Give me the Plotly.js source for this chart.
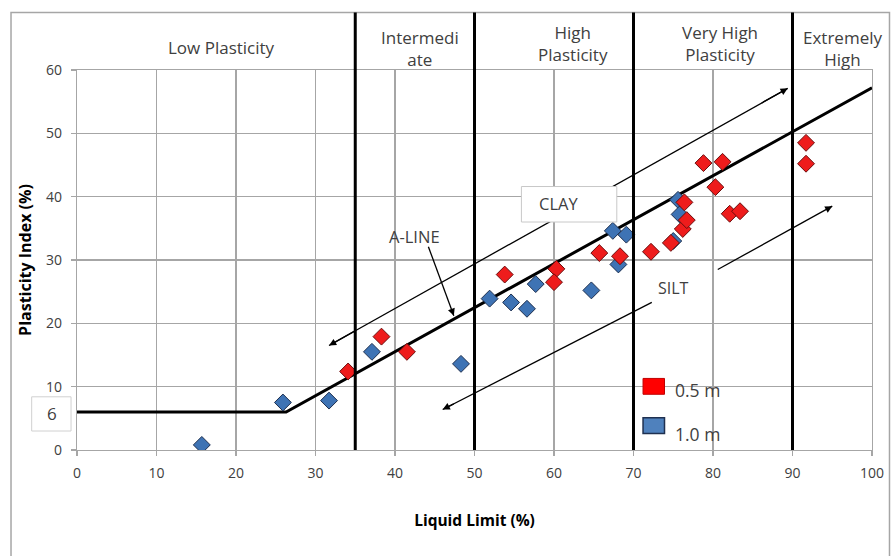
<!DOCTYPE html>
<html>
<head>
<meta charset="utf-8">
<script src="https://cdn.plot.ly/plotly-3.0.1.min.js"></script>
<style>html,body{margin:0;padding:0;background:#fff;}#chart{width:892px;height:556px;}</style>
</head>
<body>
<div id="chart"></div>
<script>
// Data: Liquid Limit (%) vs Plasticity Index (%)
const red05LL = [34.1, 38.3, 41.5, 53.8, 60.3, 60.0, 65.7, 68.3, 72.2, 74.7, 76.2, 76.7, 76.4, 78.8, 80.3, 81.2, 82.1, 83.4, 91.7, 91.7];
const red05PI = [12.4, 17.9, 15.5, 27.7, 28.6, 26.5, 31.1, 30.6, 31.3, 32.7, 34.9, 36.3, 39.1, 45.3, 41.5, 45.5, 37.3, 37.7, 48.5, 45.2];
const blue10LL = [15.7, 25.9, 31.7, 37.1, 48.3, 51.9, 54.6, 56.6, 57.7, 64.7, 67.4, 68.1, 69.1, 75.0, 75.6, 75.8];
const blue10PI = [0.8, 7.5, 7.8, 15.5, 13.6, 23.9, 23.3, 22.3, 26.2, 25.2, 34.6, 29.3, 34.0, 33.0, 39.5, 37.2];
const alineLL = [0, 26.3, 100];
const alinePI = [6, 6, 57.2];
const boundaryLL = [35, 50, 70, 90];
const zoneNames = ["Low Plasticity", "Intermedi<br>ate", "High<br>Plasticity", "Very High<br>Plasticity", "Extremely<br>High"];
const zoneCentersLL = [18.2, 43.2, 62.4, 80.9, 96.3];
const seriesNames = ["0.5 m", "1.0 m"];
const xTicks = [0, 10, 20, 30, 40, 50, 60, 70, 80, 90, 100];
const yTicks = [0, 10, 20, 30, 40, 50, 60];

const FONT = "'Open Sans', sans-serif";
const TXT = "#404040";

const traces = [
  {x: alineLL, y: alinePI, mode: "lines", line: {color: "#000", width: 3}, hoverinfo: "skip", showlegend: false},
  {x: blue10LL, y: blue10PI, mode: "markers", name: seriesNames[1], showlegend: false,
   marker: {symbol: "diamond", size: 13, color: "#3e73b4", line: {color: "#1d2f4f", width: 1}}},
  {x: red05LL, y: red05PI, mode: "markers", name: seriesNames[0], showlegend: false,
   marker: {symbol: "diamond", size: 13, color: "#ee1c1c", line: {color: "#6b0d0d", width: 1}}}
];

const shapes = [];
// outer chart frame
shapes.push({type: "rect", xref: "paper", yref: "paper", x0: -0.083, x1: 1.022, y0: -0.3, y1: 1.151,
  line: {color: "#a6a6a6", width: 1.5}, layer: "below"});
// zone boundaries
boundaryLL.forEach(v => shapes.push({type: "line", xref: "x", yref: "paper", x0: v, x1: v, y0: 0, y1: 1.151,
  line: {color: "#000", width: 3}, layer: "above"}));
// arrow bodies
const arrowLines = [
  [31.7, 16.5, 89.4, 57.1],
  [44.2, 32.1, 47.4, 21.2],
  [46.0, 6.4, 72.3, 23.3],
  [80.6, 28.5, 95.0, 38.5]
];
arrowLines.forEach(a => shapes.push({type: "line", xref: "x", yref: "y", x0: a[0], y0: a[1], x1: a[2], y1: a[3],
  line: {color: "#000", width: 1.3}, layer: "above"}));
// CLAY box
shapes.push({type: "rect", xref: "x", yref: "y", x0: 55.9, x1: 67.9, y0: 36.0, y1: 41.6,
  fillcolor: "#fff", line: {color: "#c8c8c8", width: 1}, layer: "above"});
// "6" box
shapes.push({type: "rect", xref: "paper", yref: "paper", x0: -0.057, x1: -0.0075, y0: 0.05, y1: 0.14,
  fillcolor: "#fff", line: {color: "#d0d0d0", width: 1}, layer: "above"});
// legend swatches
shapes.push({type: "rect", xref: "x", yref: "y", x0: 71.2, x1: 73.9, y0: 8.8, y1: 11.3,
  fillcolor: "#ff0000", line: {color: "#c00000", width: 1}, layer: "above"});
shapes.push({type: "rect", xref: "x", yref: "y", x0: 71.2, x1: 73.9, y0: 2.6, y1: 5.1,
  fillcolor: "#4f81bd", line: {color: "#1f3050", width: 1.5}, layer: "above"});

const zoneY = [1.058, 1.056, 1.071, 1.071, 1.057];
const annotations = [];
zoneNames.forEach((n, i) => annotations.push({text: n, x: zoneCentersLL[i], xref: "x", yref: "paper",
  y: zoneY[i], yanchor: "middle", xanchor: "center", showarrow: false,
  font: {family: FONT, size: 17, color: TXT}, align: "center"}));

// arrowheads (short annotation arrows on top of the bodies)
function head(x0, y0, x1, y1) {
  const f = 0.06;
  return {x: x1, y: y1, ax: x1 - (x1 - x0) * f, ay: y1 - (y1 - y0) * f, xref: "x", yref: "y", axref: "x", ayref: "y",
    text: "", showarrow: true, arrowhead: 2, arrowsize: 1.1, arrowwidth: 1.3, arrowcolor: "#000"};
}
annotations.push(head(89.4, 57.1, 31.7, 16.5));
annotations.push(head(31.7, 16.5, 89.4, 57.1));
annotations.push(head(44.2, 32.1, 47.4, 21.2));
annotations.push(head(72.3, 23.3, 46.0, 6.4));
annotations.push(head(80.6, 28.5, 95.0, 38.5));

annotations.push({text: "CLAY", x: 57.8, y: 38.9, xref: "x", yref: "y", xanchor: "left", yanchor: "middle", showarrow: false,
  font: {family: FONT, size: 16.5, color: TXT}});
annotations.push({text: "A-LINE", x: 42.5, y: 33.7, xref: "x", yref: "y", xanchor: "center", yanchor: "middle", showarrow: false,
  font: {family: FONT, size: 16.5, color: TXT}});
annotations.push({text: "SILT", x: 75.0, y: 25.6, xref: "x", yref: "y", xanchor: "center", yanchor: "middle", showarrow: false,
  font: {family: FONT, size: 16, color: TXT}});
annotations.push({text: "6", x: -0.032, y: 0.095, xref: "paper", yref: "paper", xanchor: "center", yanchor: "middle", showarrow: false,
  font: {family: FONT, size: 17, color: TXT}});
annotations.push({text: seriesNames[0], x: 75.0, y: 9.5, xref: "x", yref: "y", xanchor: "left", yanchor: "middle", showarrow: false,
  font: {family: FONT, size: 17.5, color: TXT}});
annotations.push({text: seriesNames[1], x: 75.0, y: 2.6, xref: "x", yref: "y", xanchor: "left", yanchor: "middle", showarrow: false,
  font: {family: FONT, size: 17.5, color: TXT}});

const axisCommon = {
  showgrid: true, gridcolor: "#a6a6a6", gridwidth: 1.2, showline: true, mirror: true, linecolor: "#a6a6a6", linewidth: 1.2,
  ticks: "outside", ticklen: 5, tickcolor: "#a6a6a6", tickwidth: 1.2, zeroline: false,
  tickfont: {family: FONT, size: 14, color: TXT}
};

const layout = {
  width: 892, height: 556,
  margin: {l: 77, r: 20, t: 70, b: 106},
  paper_bgcolor: "#fff", plot_bgcolor: "#fff",
  showlegend: false,
  xaxis: Object.assign({}, axisCommon, {range: [0, 100], tickvals: xTicks, ticklabelstandoff: 5,
    title: {text: "Liquid Limit (%)", font: {family: FONT, size: 15.5, color: "#000", weight: "bold"}, standoff: 34}}),
  yaxis: Object.assign({}, axisCommon, {range: [0, 60], tickvals: yTicks, ticklabelstandoff: 6,
    title: {text: "Plasticity Index (%)", font: {family: FONT, size: 16, color: "#000", weight: "bold"}, standoff: 10}}),
  shapes: shapes,
  annotations: annotations
};

Plotly.newPlot("chart", traces, layout, {displayModeBar: false, staticPlot: true});
</script>
</body>
</html>
